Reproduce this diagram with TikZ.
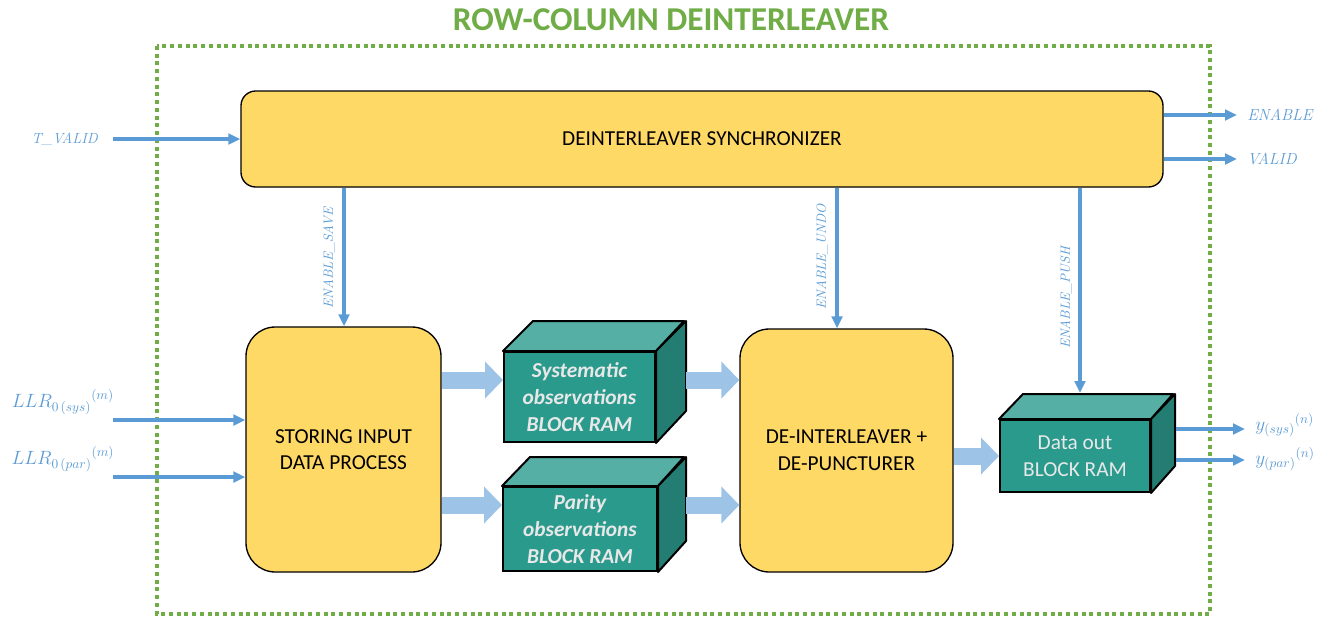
\documentclass[tikz,border=0pt]{standalone}
\usepackage{fontspec}
\newfontfamily\carfont{Carlito}
\usetikzlibrary{arrows.meta,calc}
\definecolor{ygold}{HTML}{FFD966}
\definecolor{lblue}{HTML}{5B9BD5}
\definecolor{pblue}{HTML}{9DC3E6}
\definecolor{gframe}{HTML}{70AD47}
\definecolor{tfront}{HTML}{2A9A8D}
\definecolor{ttop}{HTML}{55AFA5}
\definecolor{tside}{HTML}{237D72}
\definecolor{ctext}{HTML}{E8E8E8}
\begin{document}
\begin{tikzpicture}[x=0.75pt,y=-0.75pt,
  procbox/.style={draw=black,line width=1pt,fill=ygold,align=center,font=\carfont\fontsize{16}{20}\selectfont,inner sep=0pt},
  front/.style={draw=black,line width=1.5pt,fill=tfront,align=center,text=ctext,font=\carfont\fontsize{16}{20}\selectfont,inner sep=0pt},
  sig/.style={draw=lblue,line width=2.4pt,-{Triangle[length=9pt,width=8pt]}},
  lab/.style={text=lblue,font=\fontsize{12}{14}\selectfont\itshape,inner sep=0pt},
  mlab/.style={text=lblue,font=\fontsize{14.5}{16}\selectfont,inner sep=0pt},
  rlab/.style={text=lblue,font=\fontsize{10}{12}\selectfont\itshape,inner sep=0pt,rotate=90},
  fat/.style={draw=pblue,line width=12.75pt,-{Triangle[length=13.5pt,width=27pt]}}]
\useasboundingbox (0,0) rectangle (1329,619);
% title
\node[text=gframe,font=\carfont\bfseries\fontsize{25}{28}\selectfont] (title) at (671,20) {ROW-COLUMN DEINTERLEAVER};
% frame
\draw[gframe,line width=3pt,dash pattern=on 3pt off 2.8pt] (157,46) rectangle (1210,614);
% boxes
\node[procbox,rounded corners=11pt,minimum width=691.5pt,minimum height=72pt] (sync) at (702,139) {DEINTERLEAVER SYNCHRONIZER};
\node[procbox,rounded corners=22pt,minimum width=146.25pt,minimum height=183.75pt] (stor) at (343.5,449.5) {STORING INPUT\\DATA PROCESS};
\node[procbox,rounded corners=22pt,minimum width=159.75pt,minimum height=182.25pt] (dein) at (846.5,450.5) {DE-INTERLEAVER +\\DE-PUNCTURER};
% cubes
\node[front,minimum width=113.25pt,minimum height=67.5pt,font=\carfont\bfseries\itshape\fontsize{16}{20}\selectfont] (sysf) at (579.5,397) {Systematic\\observations\\BLOCK RAM};
\draw[black,line width=1.5pt,fill=ttop,line join=round] (sysf.north west) -- ++(30,-30) -- ++(151,0) -- (sysf.north east) -- cycle;
\draw[black,line width=1.5pt,fill=tside,line join=round] (sysf.north east) -- ++(30,-30) -- ++(0,90) -- (sysf.south east) -- cycle;
\node[front,minimum width=115.5pt,minimum height=63pt,font=\carfont\bfseries\itshape\fontsize{16}{20}\selectfont] (parf) at (580,529) {Parity\\observations\\BLOCK RAM};
\draw[black,line width=1.5pt,fill=ttop,line join=round] (parf.north west) -- ++(28,-29) -- ++(154,0) -- (parf.north east) -- cycle;
\draw[black,line width=1.5pt,fill=tside,line join=round] (parf.north east) -- ++(28,-29) -- ++(0,84) -- (parf.south east) -- cycle;
\node[front,minimum width=112.5pt,minimum height=54pt] (dout) at (1075,456) {Data out\\BLOCK RAM};
\draw[black,line width=1.5pt,fill=ttop,line join=round] (dout.north west) -- ++(24,-25) -- ++(150,0) -- (dout.north east) -- cycle;
\draw[black,line width=1.5pt,fill=tside,line join=round] (dout.north east) -- ++(24,-25) -- ++(0,72) -- (dout.south east) -- cycle;
% coordinates
\coordinate (tvs) at (113,139);
\coordinate (ene) at (1237,115);
\coordinate (vae) at (1237,159);
\coordinate (lls) at (113,420);
\coordinate (llp) at (113,477);
\coordinate (yse) at (1245,429);
\coordinate (ype) at (1245,460);
\coordinate (yss) at (1176,429);
\coordinate (yps) at (1176,460);
\coordinate (esx) at (344,0);
\coordinate (eux) at (837,0);
\coordinate (dtop) at (1080,393);
\coordinate (s2d) at (686,380);
\coordinate (p2d) at (686,505);
% thin arrows and labels
\node[lab,anchor=east,font=\fontsize{11}{13}\selectfont\itshape] (tvl) at (98,139) {T\_VALID};
\draw[sig] (tvs) -- (sync.west |- tvs);
\draw[sig] (sync.east |- ene) -- (ene);
\draw[sig] (sync.east |- vae) -- (vae);
\node[lab,anchor=west] (enl) at (1247,115) {ENABLE};
\node[lab,anchor=west] (val) at (1247,159) {VALID};
\draw[sig] (lls) -- (stor.west |- lls);
\draw[sig] (llp) -- (stor.west |- llp);
\node[mlab] (llsl) at (63,402) {$\color{lblue}{LLR_{0\,(sys)}}^{(m)}$};
\node[mlab] (llpl) at (63,459) {$\color{lblue}{LLR_{0\,(par)}}^{(m)}$};
\draw[sig] (yss) -- (yse);
\draw[sig] (yps) -- (ype);
\node[mlab,anchor=west] (ysl) at (1255,425) {$\color{lblue}{y_{(sys)}}^{(n)}$};
\node[mlab,anchor=west] (ypl) at (1255,459) {$\color{lblue}{y_{(par)}}^{(n)}$};
\draw[sig] (sync.south -| esx) -- (stor.north -| esx);
\draw[sig] (sync.south -| eux) -- (dein.north -| eux);
\draw[sig] (sync.south -| dtop) -- (dtop);
\node[rlab] (esl) at (329,258) {ENABLE\_SAVE};
\node[rlab] (eul) at (822,257) {ENABLE\_UNDO};
\node[rlab] (epl) at (1066,298) {ENABLE\_PUSH};
% fat arrows
\draw[fat] (stor.east |- s2d) -- (sysf.west |- s2d);
\draw[fat] (stor.east |- p2d) -- (parf.west |- p2d);
\draw[fat] (s2d) -- (dein.west |- s2d);
\draw[fat] (p2d) -- (dein.west |- p2d);
\draw[fat] (dein.east |- dout.west) -- (dout.west);
\end{tikzpicture}
\end{document}
